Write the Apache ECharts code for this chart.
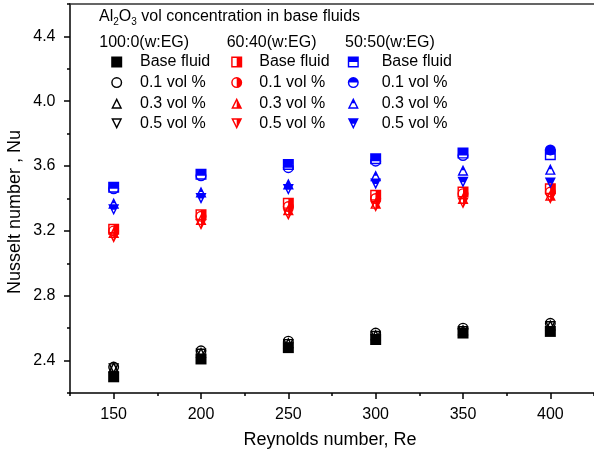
<!DOCTYPE html>
<html>
<head>
<meta charset="utf-8">
<script src="https://cdn.jsdelivr.net/npm/echarts@6/dist/echarts.min.js"></script>
<style>
html,body{margin:0;padding:0;background:#fff;}
#chart{width:594px;height:458px;}
</style>
</head>
<body>
<div id="chart"></div>
<script>
// ---- data ----
const Re = [150, 200, 250, 300, 350, 400];

// 100:0 (w:EG)
const water_base = [2.30, 2.41, 2.48, 2.53, 2.57, 2.58];
const water_01   = [2.36, 2.46, 2.52, 2.57, 2.60, 2.63];
const water_03   = [2.36, 2.45, 2.51, 2.56, 2.59, 2.62];
const water_05   = [2.35, 2.44, 2.50, 2.55, 2.58, 2.61];

// 60:40 (w:EG)
const eg40_base = [3.21, 3.30, 3.37, 3.42, 3.44, 3.46];
const eg40_01   = [3.20, 3.29, 3.35, 3.40, 3.43, 3.44];
const eg40_03   = [3.19, 3.27, 3.33, 3.37, 3.40, 3.42];
const eg40_05   = [3.16, 3.24, 3.30, 3.35, 3.37, 3.40];

// 50:50 (w:EG)
const eg50_base = [3.47, 3.55, 3.61, 3.645, 3.68, 3.67];
const eg50_01   = [3.46, 3.54, 3.59, 3.63, 3.665, 3.70];
const eg50_03   = [3.37, 3.44, 3.49, 3.54, 3.575, 3.58];
const eg50_05   = [3.33, 3.40, 3.455, 3.49, 3.50, 3.495];

const itemLabels = ['Base fluid', '0.1 vol %', '0.3 vol %', '0.5 vol %'];
const groupLabels = ['100:0(w:EG)', '60:40(w:EG)', '50:50(w:EG)'];
const xTitle = 'Reynolds number, Re';
const yTitle = 'Nusselt number , Nu';

const yMajorTicks = [2.4, 2.8, 3.2, 3.6, 4.0, 4.4];
const yMinorTicks = [2.2, 2.6, 3.0, 3.4, 3.8, 4.2, 4.6];
const xMajorTicks = [150, 200, 250, 300, 350, 400];
const xMinorTicks = [125, 175, 225, 275, 325, 375, 425];

// ---- symbols (0..100 box, holes by reverse winding) ----
const OUT_SQ = 'M0 0L100 0L100 100L0 100Z';
const OUT_CI = 'M50 0A50 50 0 1 1 50 100A50 50 0 1 1 50 0Z';
const OUT_TU = 'M50 0L100 100L0 100Z';
const OUT_TD = 'M0 0L100 0L50 100Z';
const SYM = {
  sqFill: 'path://' + OUT_SQ,
  ciEmpty: 'path://' + OUT_CI + ' M50 13A37 37 0 1 0 50 87A37 37 0 1 0 50 13Z',
  tuEmpty: 'path://' + OUT_TU + ' M50 29.1L21 87L79 87Z',
  tdEmpty: 'path://' + OUT_TD + ' M21 13L50 70.9L79 13Z',
  sqRight: 'path://' + OUT_SQ + ' M13 13L13 87L50 87L50 13Z',
  ciRight: 'path://' + OUT_CI + ' M50 13A37 37 0 0 0 50 87Z',
  tuRight: 'path://' + OUT_TU + ' M50 29.1L21 87L50 87Z',
  tdRight: 'path://' + OUT_TD + ' M21 13L50 70.9L50 13Z',
  sqTop: 'path://' + OUT_SQ + ' M13 50L13 87L87 87L87 50Z',
  ciTop: 'path://' + OUT_CI + ' M13 50A37 37 0 0 0 87 50Z',
  tuTop: 'path://' + OUT_TU + ' M39.5 50L21 87L79 87L60.5 50Z',
  tdTop: 'path://' + OUT_TD + ' M39.5 50L50 70.9L60.5 50Z'
};

const groups = [
  { key: 'w', color: '#000000', values: [water_base, water_01, water_03, water_05],
    symbols: [SYM.sqFill, SYM.ciEmpty, SYM.tuEmpty, SYM.tdEmpty], left: 111.2, itemWidth: 36.6 },
  { key: 'r', color: '#FF0000', values: [eg40_base, eg40_01, eg40_03, eg40_05],
    symbols: [SYM.sqRight, SYM.ciRight, SYM.tuRight, SYM.tdRight], left: 231.2, itemWidth: 35.2 },
  { key: 'b', color: '#0000FF', values: [eg50_base, eg50_01, eg50_03, eg50_05],
    symbols: [SYM.sqTop, SYM.ciTop, SYM.tuTop, SYM.tdTop], left: 347.8, itemWidth: 46.8 }
];

const FONT = '"Liberation Sans", Arial, sans-serif';
const nameMap = {};
const series = [];
const legends = [];
groups.forEach(g => {
  const names = [];
  g.values.forEach((vals, i) => {
    const name = g.key + i;
    nameMap[name] = itemLabels[i];
    names.push(name);
    series.push({
      type: 'scatter',
      name: name,
      data: Re.map((x, j) => [x, vals[j]]),
      symbol: g.symbols[i],
      symbolSize: 11,
      symbolKeepAspect: true,
      itemStyle: { color: g.color, opacity: 1, borderWidth: 0 },
      emphasis: { disabled: true },
      animation: false
    });
  });
  legends.push({
    data: names,
    orient: 'vertical',
    left: g.left,
    top: 54,
    padding: 0,
    itemWidth: g.itemWidth,
    itemHeight: 11,
    itemGap: 4.6,
    symbolKeepAspect: true,
    selectedMode: false,
    formatter: n => nameMap[n],
    textStyle: { fontSize: 16, lineHeight: 16, color: '#000', fontFamily: FONT }
  });
});

const chart = echarts.init(document.getElementById('chart'), null, { renderer: 'canvas' });
chart.setOption({
  backgroundColor: '#fff',
  animation: false,
  textStyle: { fontFamily: FONT },
  title: [
    {
      left: 99, top: 7, padding: 0,
      text: '{n|Al}{s|2}{n|O}{s|3}{n| vol concentration in base fluids}',
      textStyle: {
        fontWeight: 'normal',
        rich: {
          n: { fontSize: 16, lineHeight: 20, color: '#000', fontFamily: FONT, fontWeight: 'normal' },
          s: { fontSize: 10, lineHeight: 10, color: '#000', fontFamily: FONT, fontWeight: 'normal', verticalAlign: 'bottom' }
        }
      }
    },
    { left: 99.3, top: 35, padding: 0, text: groupLabels[0],
      textStyle: { fontSize: 16, fontWeight: 'normal', color: '#000', fontFamily: FONT, lineHeight: 16 } },
    { left: 226.7, top: 35, padding: 0, text: groupLabels[1],
      textStyle: { fontSize: 16, fontWeight: 'normal', color: '#000', fontFamily: FONT, lineHeight: 16 } },
    { left: 345, top: 35, padding: 0, text: groupLabels[2],
      textStyle: { fontSize: 16, fontWeight: 'normal', color: '#000', fontFamily: FONT, lineHeight: 16 } }
  ],
  graphic: [
    { type: 'text', x: 330, y: 440, silent: true,
      style: { text: xTitle, fill: '#000', font: '18px ' + FONT, align: 'center', verticalAlign: 'middle' } },
    { type: 'text', x: 15, y: 212, rotation: Math.PI / 2, silent: true,
      style: { text: yTitle, fill: '#000', font: '18px ' + FONT, align: 'center', verticalAlign: 'middle' } }
  ],
  legend: legends,
  grid: { left: 70, right: -6, top: 4, bottom: 65, containLabel: false },
  xAxis: [
    {
      type: 'value', min: 125, max: 425, position: 'bottom',
      axisLine: { show: true, onZero: false, lineStyle: { color: '#000', width: 1.5 } },
      axisTick: { show: true, inside: false, length: 6, customValues: xMajorTicks, lineStyle: { color: '#000', width: 1.5 } },
      axisLabel: { show: true, customValues: xMajorTicks, fontSize: 16, color: '#000', margin: 14, fontFamily: FONT },
      splitLine: { show: false }
    },
    {
      type: 'value', min: 125, max: 425, position: 'bottom',
      axisLine: { show: false, onZero: false },
      axisTick: { show: true, inside: false, length: 3, customValues: xMinorTicks, lineStyle: { color: '#000', width: 1.5 } },
      axisLabel: { show: false },
      splitLine: { show: false }
    },
    {
      type: 'value', min: 125, max: 425, position: 'top',
      axisLine: { show: true, onZero: false, lineStyle: { color: '#333', width: 1.5 } },
      axisTick: { show: false },
      axisLabel: { show: false },
      splitLine: { show: false }
    }
  ],
  yAxis: [
    {
      type: 'value', min: 2.2, max: 4.6, position: 'left',
      axisLine: { show: true, onZero: false, lineStyle: { color: '#000', width: 1.5 } },
      axisTick: { show: true, inside: false, length: 6, customValues: yMajorTicks, lineStyle: { color: '#000', width: 1.5 } },
      axisLabel: { show: true, customValues: yMajorTicks, formatter: v => Number(v).toFixed(1),
        fontSize: 16, color: '#000', margin: 14.5, fontFamily: FONT },
      splitLine: { show: false }
    },
    {
      type: 'value', min: 2.2, max: 4.6, position: 'left',
      axisLine: { show: false, onZero: false },
      axisTick: { show: true, inside: false, length: 3, customValues: yMinorTicks, lineStyle: { color: '#000', width: 1.5 } },
      axisLabel: { show: false },
      splitLine: { show: false }
    }
  ],
  series: series
});
</script>
</body>
</html>
